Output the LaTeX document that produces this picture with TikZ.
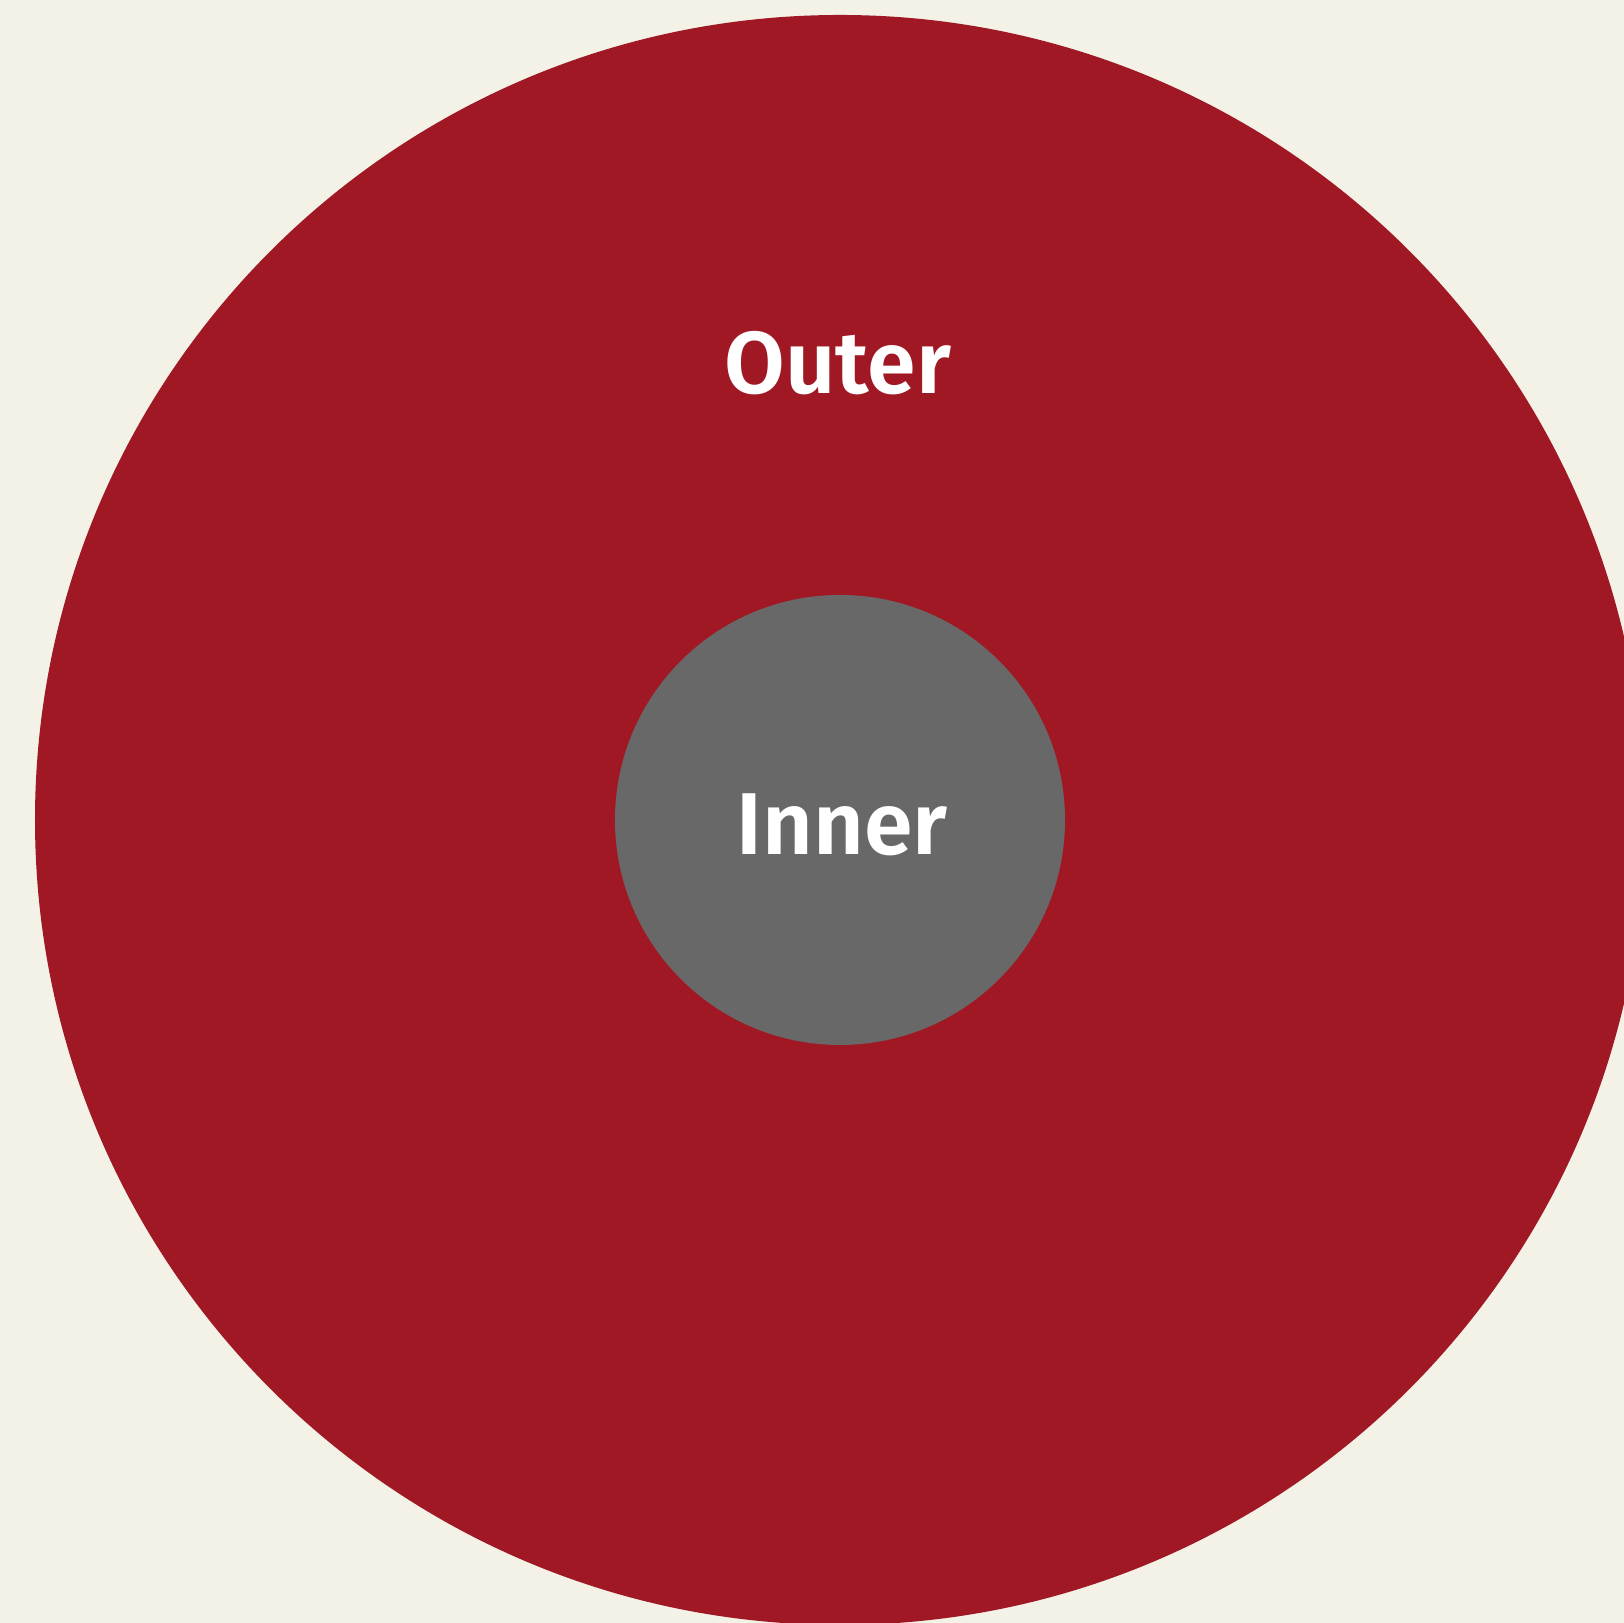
\documentclass[tikz,border=0pt]{standalone}
\usepackage{fontspec}
\setmainfont{Fira Sans}[BoldFont={Fira Sans SemiBold}]
\usepackage{xcolor}
\usepackage{tikz}
\usetikzlibrary{positioning}
\definecolor{paper}{RGB}{244,241,231}
\definecolor{ringred}{RGB}{161,24,37}
\definecolor{coregray}{RGB}{104,104,104}

\begin{document}
\begin{tikzpicture}[every node/.style={font=\fontsize{25}{30}\selectfont\bfseries, text=white}]
\fill[paper] (0,0) rectangle (16.24,16.23);
\useasboundingbox (0,0) rectangle (16.24,16.23);
\clip (0,0) rectangle (16.24,16.23);
\node[circle, fill=ringred, minimum size=16.10cm, inner sep=0pt] (outer) at (8.40,8.03) {};
\node[circle, fill=coregray, minimum size=4.50cm, inner sep=0pt] (inner) at (8.40,8.03) {};
\node[anchor=base] (outerlbl) at (8.38,12.29) {Outer};
\node[anchor=base] (innerlbl) at (8.42,7.68) {Inner};
\end{tikzpicture}
\end{document}
